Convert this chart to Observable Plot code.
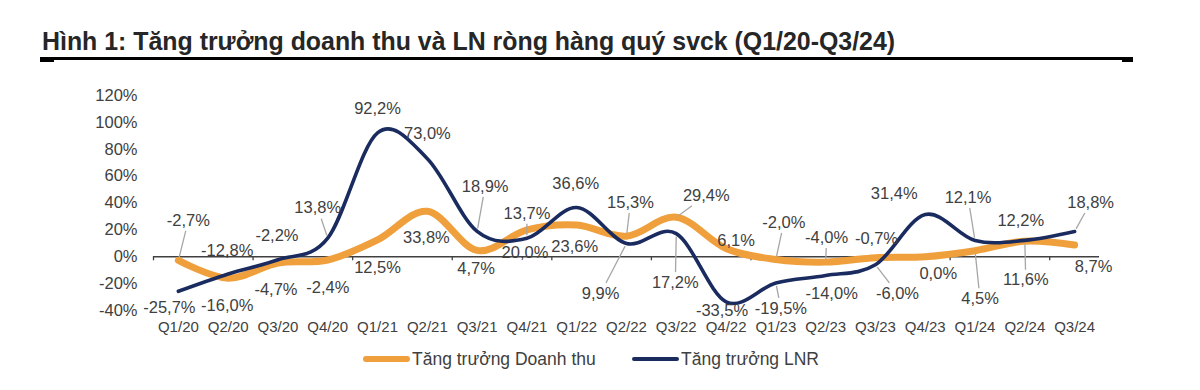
<!DOCTYPE html>
<html><head><meta charset="utf-8">
<script src="https://cdn.jsdelivr.net/npm/d3@7"></script>
<script src="https://cdn.jsdelivr.net/npm/@observablehq/plot@0.6"></script>
<style>
body{margin:0;background:#fff;font-family:"Liberation Sans",Arial,sans-serif;}
#wrap{position:relative;width:1200px;height:390px;overflow:hidden;background:#fff;}
#title{position:absolute;left:42px;top:29px;font-size:24.9px;line-height:24.9px;font-weight:bold;color:#262626;white-space:nowrap;}
.rule{position:absolute;background:#000;}
#chart{position:absolute;left:0;top:70px;}
.leg{position:absolute;top:348px;height:22px;display:flex;align-items:center;font-size:17.5px;color:#404040;white-space:nowrap;}
.sw{display:inline-block;width:47px;border-radius:3px;margin-right:2px;}
</style></head>
<body>
<div id="wrap">
  <div id="title">Hình 1: Tăng trưởng doanh thu và LN ròng hàng quý svck (Q1/20-Q3/24)</div>
  <div class="rule" style="left:40px;top:57px;width:1093px;height:3px;"></div>
  <div class="rule" style="left:40px;top:57px;width:14px;height:5px;"></div>
  <div class="rule" style="left:1122px;top:57px;width:11px;height:5px;"></div>
  <div id="chart"></div>
</div>
<script>
// ---- data ----
const quarters = ["Q1/20","Q2/20","Q3/20","Q4/20","Q1/21","Q2/21","Q3/21","Q4/21","Q1/22","Q2/22","Q3/22","Q4/22","Q1/23","Q2/23","Q3/23","Q4/23","Q1/24","Q2/24","Q3/24"];
const revenueGrowth = [-2.7,-16.0,-4.7,-2.4,12.5,33.8,4.7,20.0,23.6,15.3,29.4,6.1,-2.0,-4.0,-0.7,0.0,4.5,11.6,8.7];
const profitGrowth = [-25.7,-12.8,-2.2,13.8,92.2,73.0,18.9,13.7,36.6,9.9,17.2,-33.5,-19.5,-14.0,-6.0,31.4,12.1,12.2,18.8];
const yTicks = [-40,-20,0,20,40,60,80,100,120];
const seriesNames = ["Tăng trưởng Doanh thu","Tăng trưởng LNR"];

// ---- layout (label offsets in px: dx, dy, leader) ----
const revenueLabelLayout = [[10,-40,1],[-1,27,0],[-2,27,0],[0,27.5,0],[0,27.5,0],[-1,26,0],[-1,18,0],[-2,22.6,0],[-2,21.4,0],[4,-33.7,1],[30,-22,1],[10,-8,0],[8,-37,1],[1,-24.7,1],[1,-19,0],[13,17,0],[5,48,1],[1,39,1],[19,22,0]];
const profitLabelLayout = [[-9,16,0],[-1,-23.5,0],[-1,-24,0],[-10,-30,1],[0,-24,0],[0,-25,0],[8,-45,1],[0,-25,1],[-1,-24,0],[-26,50,1],[-1,49,1],[-4,9,0],[5,25.5,1],[6,18,0],[22,28.6,1],[-31,-21,0],[-7,-43,1],[-4,-20,0],[16,-29,1]];

const colors = ["#EFA03C", "#1A2B5F"];
const W = 1200, H = 280, mT = 25, mB = 40, mL = 153, mR = 101;
const kx = (W - mL - mR) / quarters.length;
const ky = (H - mT - mB) / (yTicks[yTicks.length-1] - yTicks[0]);

const fmt = v => v.toFixed(1).replace(".", ",") + "%";
const rev = revenueGrowth.map((v,i)=>({i, v}));
const prof = profitGrowth.map((v,i)=>({i, v}));

const labels = [], leaders = [];
function addLabels(values, layout){
  values.forEach((v,i)=>{
    const [dx,dy,lead] = layout[i];
    labels.push({x: i + dx/kx, y: v - dy/ky, text: fmt(v)});
    if (lead) {
      const len = Math.hypot(dx,dy);
      const t = Math.min(dx ? 24/Math.abs(dx) : Infinity, dy ? 10.5/Math.abs(dy) : Infinity);
      const sx = dx - dx*t, sy = dy - dy*t;
      const e = 3/len;
      const ex = dx*e, ey = dy*e;
      leaders.push({x1: i + sx/kx, y1: v - sy/ky, x2: i + ex/kx, y2: v - ey/ky});
    }
  });
}
addLabels(revenueGrowth, revenueLabelLayout);
addLabels(profitGrowth, profitLabelLayout);

const tickPos = d3.range(-0.5, quarters.length - 1, 2);

const chart = Plot.plot({
  width: W, height: H,
  marginTop: mT, marginBottom: mB, marginLeft: mL, marginRight: mR,
  style: {fontFamily: '"Liberation Sans", Arial, sans-serif', background: "transparent"},
  x: {type: "linear", domain: [-0.5, quarters.length - 0.5]},
  y: {domain: [yTicks[0], yTicks[yTicks.length-1]]},
  marks: [
    Plot.axisY({ticks: yTicks, tickSize: 0, tickPadding: 16, tickFormat: d => d + "%", fontSize: 16.5, color: "#404040", label: null}),
    Plot.axisX({ticks: d3.range(quarters.length), tickSize: 0, tickPadding: 11, tickFormat: i => quarters[i], fontSize: 15, color: "#404040", label: null}),
    Plot.ruleY([0], {stroke: "#404040", strokeWidth: 1.3}),
    Plot.ruleX(tickPos, {y1: 0, y2: -3, stroke: "#404040", strokeWidth: 1.3}),
    Plot.line(rev, {x: "i", y: "v", stroke: colors[0], strokeWidth: 7, curve: "catmull-rom", tension: 0}),
    Plot.line(prof, {x: "i", y: "v", stroke: colors[1], strokeWidth: 3.6, curve: "catmull-rom", tension: 0}),
    Plot.link(leaders, {x1: "x1", y1: "y1", x2: "x2", y2: "y2", stroke: "#A6A6A6", strokeWidth: 1.3}),
    Plot.text(labels, {x: "x", y: "y", text: "text", fontSize: 16.5, fill: "#404040"})
  ]
});
document.getElementById("chart").appendChild(chart);

// legend
const legLeft = [363, 632], swH = [6, 4];
seriesNames.forEach((name, k) => {
  const d = document.createElement("div");
  d.className = "leg";
  d.style.left = legLeft[k] + "px";
  const sw = document.createElement("span");
  sw.className = "sw";
  sw.style.background = colors[k];
  sw.style.height = swH[k] + "px";
  const t = document.createElement("span");
  t.textContent = name;
  d.appendChild(sw); d.appendChild(t);
  document.getElementById("wrap").appendChild(d);
});
</script>
</body></html>
